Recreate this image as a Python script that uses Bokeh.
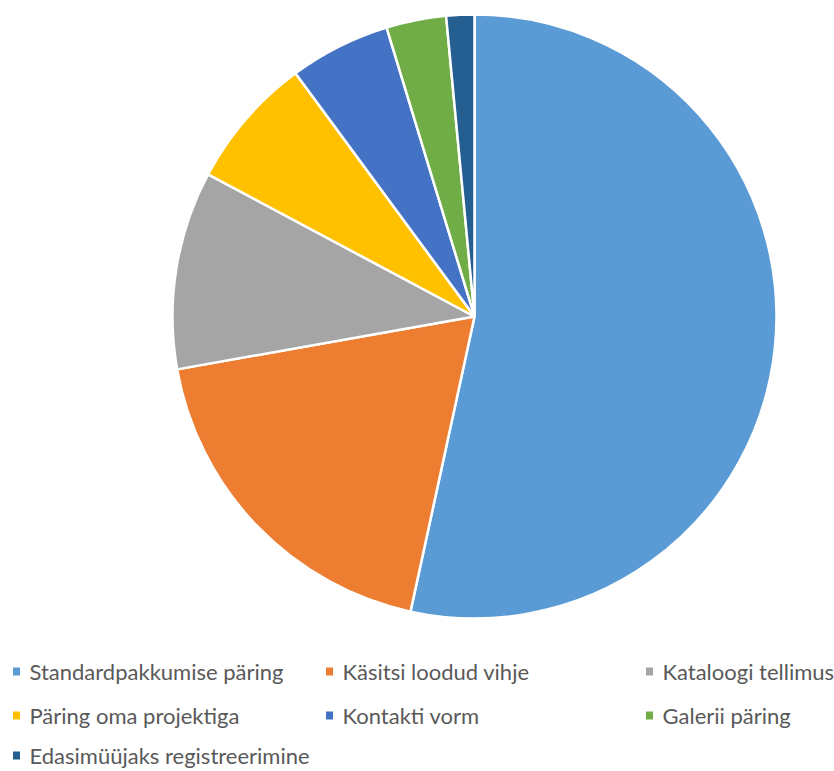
import math
from bokeh.plotting import figure
from bokeh.models import Range1d, ColumnDataSource
from bokeh.core.properties import value
from bokeh.embed import file_html
from bokeh.resources import INLINE

categories = ["Standardpakkumise päring", "Käsitsi loodud vihje", "Kataloogi tellimus",
              "Päring oma projektiga", "Kontakti vorm", "Galerii päring",
              "Edasimüüjaks registreerimine"]
shares = [53.4, 18.8, 10.6, 7.1, 5.4, 3.2, 1.5]
colors = ["#5B9BD5", "#ED7D31", "#A5A5A5", "#FFC000", "#4472C4", "#70AD47", "#255E91"]

W, H = 834, 771
p = figure(width=W, height=H, output_backend="svg", toolbar_location=None,
           x_range=Range1d(0, W), y_range=Range1d(0, H), min_border=0)
p.axis.visible = False
p.grid.visible = False
p.outline_line_color = None

total = sum(shares)
starts, ends = [], []
a = math.pi / 2
for s in shares:
    b = a - 2 * math.pi * s / total
    starts.append(a)
    ends.append(b)
    a = b

cx, cy, r = 474, H - 316, 302
src = ColumnDataSource(dict(start=starts, end=ends, color=colors))
p.wedge(x=cx, y=cy, radius=r, start_angle="end", end_angle="start",
        fill_color="color", line_color="white", line_width=2.5, source=src)

# legend
col_x = [16, 329, 649]
row_y = [H - 671, H - 715, H - 755]
lx, ly = [], []
for i, c in enumerate(categories):
    lx.append(col_x[i % 3])
    ly.append(row_y[i // 3])
lsrc = ColumnDataSource(dict(x=lx, y=ly, tx=[x + 13 for x in lx], t=categories, color=colors))
p.rect(x="x", y="y", width=7, height=8, fill_color="color", line_color=None, source=lsrc)
p.text(x="tx", y="y", text="t", text_font=value("Lato"), text_font_size="22px",
       text_color="#595959", text_baseline="middle", source=lsrc)

open("out.html", "w").write(file_html(p, INLINE))
